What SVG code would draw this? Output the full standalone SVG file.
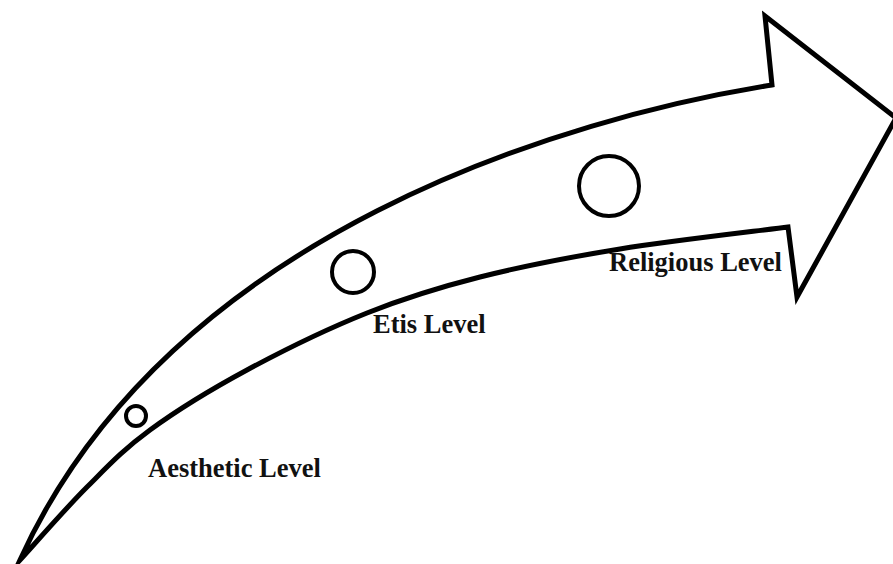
<svg xmlns="http://www.w3.org/2000/svg" width="893" height="564" viewBox="0 0 893 564">
<style>
.arrow{fill:#fff;stroke:#000;stroke-width:5;stroke-linejoin:miter;stroke-miterlimit:10}
.dot{fill:none;stroke:#000;stroke-width:4}
.lbl{font-family:"Liberation Serif","Times New Roman",serif;font-weight:bold;font-size:26.5px;fill:#111}
</style>
<rect width="893" height="564" fill="#fff"/>
<g id="connectors">
<path id="arrow" class="arrow" d="M20,560 C170,230 572,117 772,85 L765,16 L896,118 L797,297 L788,227 C760,230.7 671.3,240.7 620,249 C568.7,257.3 522.2,266.3 480,277 C437.8,287.7 405.8,297.5 367,313 C328.2,328.5 283.2,350.5 247,370 C210.8,389.5 176.7,410.5 150,430 C123.3,449.5 108.7,465.3 87,487 C65.3,508.7 31.2,547.8 20,560 Z"/>
</g>
<g id="aesthetic">
<circle class="dot" cx="136" cy="416" r="10"/>
<text class="lbl" x="148" y="477">Aesthetic Level</text>
</g>
<g id="etis">
<circle class="dot" cx="353" cy="272" r="21"/>
<text class="lbl" x="373" y="333">Etis Level</text>
</g>
<g id="religious">
<circle class="dot" cx="609" cy="186" r="30"/>
<text class="lbl" x="609" y="271">Religious Level</text>
</g>
</svg>
